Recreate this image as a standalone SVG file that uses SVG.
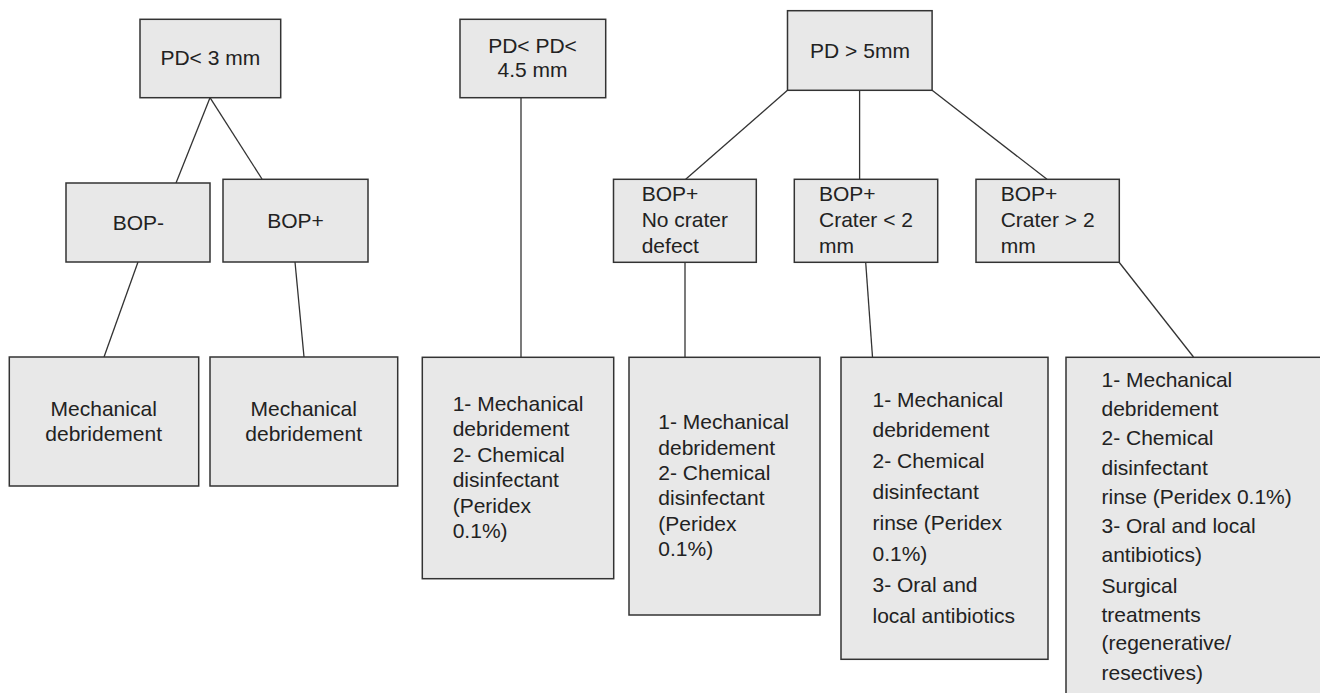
<svg xmlns="http://www.w3.org/2000/svg" width="1320" height="693" viewBox="0 0 1320 693">
<style>
.box{fill:#e8e8e8;stroke:#333;stroke-width:1.5}
.ln{stroke:#333;stroke-width:1.3;fill:none}
text{font-family:"Liberation Sans",Arial,sans-serif;font-size:21px;fill:#222}
.c{text-anchor:middle}
</style>
<rect width="1320" height="693" fill="#fff"/>
<g id="connectors">
<line class="ln" x1="210" y1="97.7" x2="176" y2="183"/>
<line class="ln" x1="210" y1="97.7" x2="262" y2="179"/>
<line class="ln" x1="138" y1="262" x2="104" y2="357"/>
<line class="ln" x1="295" y1="262" x2="304" y2="357"/>
<line class="ln" x1="521" y1="97.7" x2="521" y2="357"/>
<line class="ln" x1="787.5" y1="90.3" x2="685.7" y2="179.3"/>
<line class="ln" x1="859.6" y1="90.3" x2="859.6" y2="179.3"/>
<line class="ln" x1="932.1" y1="90.3" x2="1047" y2="179.3"/>
<line class="ln" x1="685" y1="262.5" x2="685" y2="357"/>
<line class="ln" x1="865.7" y1="262.5" x2="872.5" y2="357"/>
<line class="ln" x1="1119.3" y1="262.5" x2="1193.5" y2="357"/>
</g>
<g id="n-pd3">
<rect class="box" x="140" y="19.3" width="140.7" height="78.4"/>
<text class="c" x="210.3" y="65">PD&lt; 3 mm</text>
</g>
<g id="n-bopminus">
<rect class="box" x="66" y="183" width="144" height="79"/>
<text class="c" x="138.3" y="230">BOP-</text>
</g>
<g id="n-bopplus1">
<rect class="box" x="223" y="179.3" width="145" height="82.7"/>
<text class="c" x="295.5" y="228.3">BOP+</text>
</g>
<g id="n-mech1">
<rect class="box" x="9.3" y="357" width="189.4" height="129"/>
<text class="c" x="103.7" y="415.7">Mechanical</text>
<text class="c" x="103.7" y="440.7">debridement</text>
</g>
<g id="n-mech2">
<rect class="box" x="210" y="357" width="187.7" height="129"/>
<text class="c" x="303.7" y="415.7">Mechanical</text>
<text class="c" x="303.7" y="440.7">debridement</text>
</g>
<g id="n-pd45">
<rect class="box" x="460" y="19.3" width="145.7" height="78.4"/>
<text class="c" x="532.5" y="52.7">PD&lt; PD&lt;</text>
<text class="c" x="532.5" y="77.3">4.5 mm</text>
</g>
<g id="n-treat1">
<rect class="box" x="422.3" y="357.3" width="191.4" height="221.4"/>
<text x="452.7" y="410.7">1- Mechanical</text>
<text x="452.7" y="436.2">debridement</text>
<text x="452.7" y="461.7">2- Chemical</text>
<text x="452.7" y="487.2">disinfectant</text>
<text x="452.7" y="512.7">(Peridex</text>
<text x="452.7" y="538.2">0.1%)</text>
</g>
<g id="n-pd5">
<rect class="box" x="787.5" y="10.7" width="144.6" height="79.6"/>
<text class="c" x="860" y="58.3">PD &gt; 5mm</text>
</g>
<g id="n-nocrater">
<rect class="box" x="613.5" y="179.3" width="142.8" height="83"/>
<text x="641.7" y="200.7">BOP+</text>
<text x="641.7" y="227.3">No crater</text>
<text x="641.7" y="253.3">defect</text>
</g>
<g id="n-craterlt2">
<rect class="box" x="794.3" y="179.3" width="143.4" height="83"/>
<text x="819" y="200.7">BOP+</text>
<text x="819" y="227.3">Crater &lt; 2</text>
<text x="819" y="253.3">mm</text>
</g>
<g id="n-cratergt2">
<rect class="box" x="976" y="179.3" width="143.3" height="83"/>
<text x="1000.7" y="200.7">BOP+</text>
<text x="1000.7" y="227.3">Crater &gt; 2</text>
<text x="1000.7" y="253.3">mm</text>
</g>
<g id="n-treat2">
<rect class="box" x="629" y="357.3" width="191" height="257.7"/>
<text x="658.3" y="429.3">1- Mechanical</text>
<text x="658.3" y="454.6">debridement</text>
<text x="658.3" y="479.9">2- Chemical</text>
<text x="658.3" y="505.2">disinfectant</text>
<text x="658.3" y="530.5">(Peridex</text>
<text x="658.3" y="555.8">0.1%)</text>
</g>
<g id="n-treat3">
<rect class="box" x="841" y="357.3" width="207" height="302"/>
<text x="872.5" y="406.7">1- Mechanical</text>
<text x="872.5" y="437.4">debridement</text>
<text x="872.5" y="468.2">2- Chemical</text>
<text x="872.5" y="499.1">disinfectant</text>
<text x="872.5" y="530.2">rinse (Peridex</text>
<text x="872.5" y="561.2">0.1%)</text>
<text x="872.5" y="592.2">3- Oral and</text>
<text x="872.5" y="622.8">local antibiotics</text>
</g>
<g id="n-treat4">
<rect class="box" x="1066" y="357.3" width="270" height="350"/>
<text x="1101.5" y="386.7">1- Mechanical</text>
<text x="1101.5" y="416.1">debridement</text>
<text x="1101.5" y="445.4">2- Chemical</text>
<text x="1101.5" y="474.5">disinfectant</text>
<text x="1101.5" y="503.5">rinse (Peridex 0.1%)</text>
<text x="1101.5" y="533.1">3- Oral and local</text>
<text x="1101.5" y="562.2">antibiotics)</text>
<text x="1101.5" y="592.6">Surgical</text>
<text x="1101.5" y="621.6">treatments</text>
<text x="1101.5" y="650.3">(regenerative/</text>
<text x="1101.5" y="679.5">resectives)</text>
</g>
</svg>
